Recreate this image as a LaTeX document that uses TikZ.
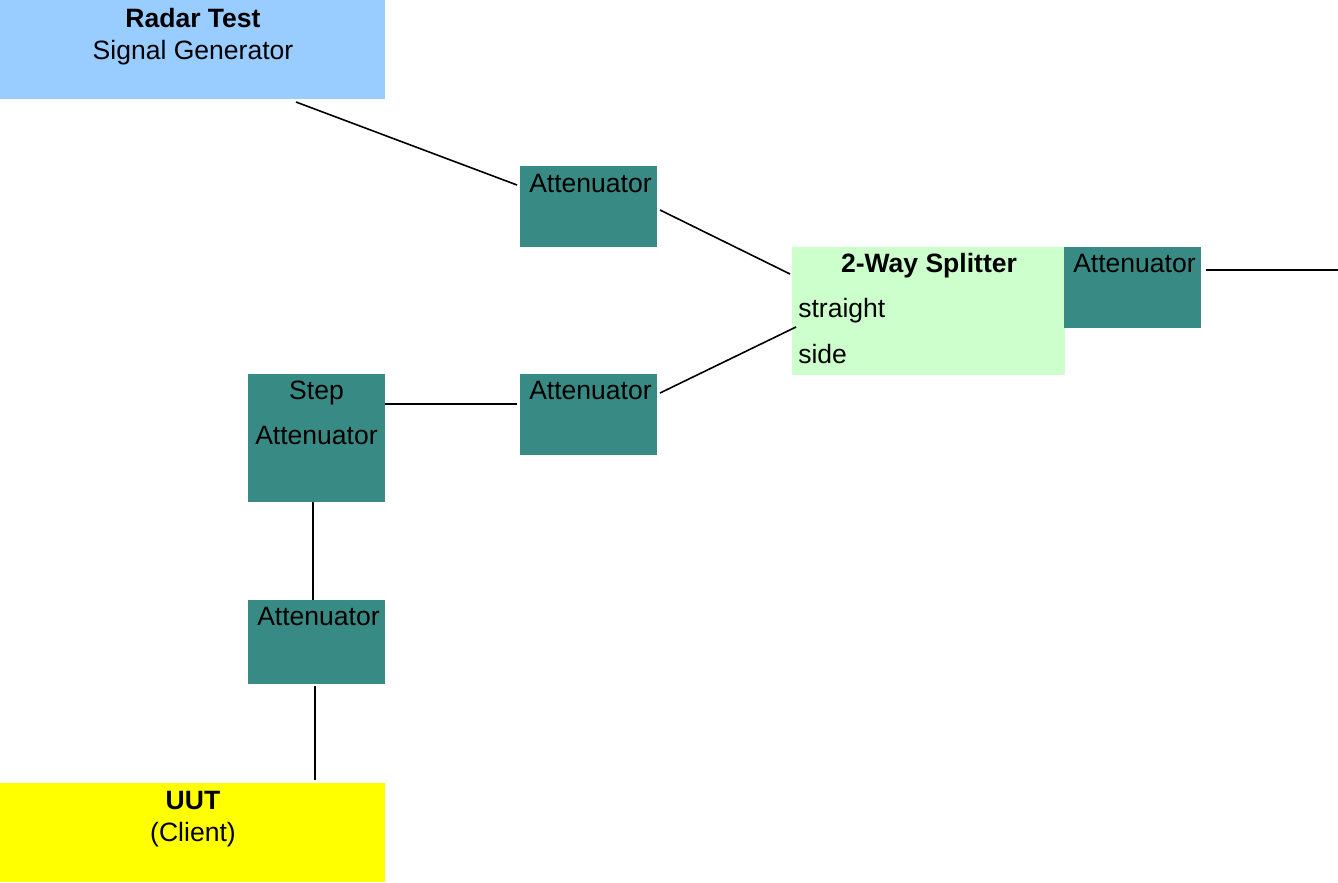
\documentclass[tikz,border=0pt]{standalone}
\usepackage{fontspec}
\setmainfont{Liberation Sans}
\usetikzlibrary{calc}
\definecolor{attcol}{HTML}{388A84}
\definecolor{radarblue}{HTML}{99CCFF}
\definecolor{splitgreen}{HTML}{CCFFCC}
\definecolor{uutyellow}{HTML}{FFFF00}
\begin{document}
\begin{tikzpicture}[x=0.75pt,y=-0.75pt,
  box/.style={draw=none, inner sep=0pt, outer sep=0pt, anchor=north west},
  attbox/.style={box, fill=attcol, minimum width=102.75pt, minimum height=60.75pt},
  lab/.style={inner sep=0pt, anchor=base, font=\fontsize{19.9}{24}\selectfont},
  labw/.style={lab, anchor=base west},
  wire/.style={draw=black, line width=1.2pt}]
\useasboundingbox (0,0) rectangle (1338,882);
% boxes
\node[box, fill=radarblue, minimum width=288.75pt, minimum height=74.25pt] (radar) at (0,0) {};
\node[attbox] (att1) at (520,166) {};
\node[box, fill=splitgreen, minimum width=204.75pt, minimum height=96pt] (split) at (792,247) {};
\node[attbox] (attr) at (1064,247) {};
\node[attbox] (att2) at (520,374) {};
\node[attbox, minimum height=96pt] (step) at (248,374) {};
\node[attbox, minimum height=63pt] (att3) at (248,600) {};
\node[box, fill=uutyellow, minimum width=288.75pt, minimum height=74.25pt] (uut) at (0,783) {};
% labels
\node[lab, font=\fontsize{19.9}{24}\selectfont\bfseries] (radarT) at (193,27) {Radar Test};
\node[lab] (radarS) at (193,59) {Signal Generator};
\node[labw] (att1T) at (529,192) {Attenuator};
\node[lab, font=\fontsize{19.9}{24}\selectfont\bfseries] (splitT) at (929,272) {2-Way Splitter};
\node[labw] (splitA) at (798,317) {straight};
\node[labw] (splitB) at (798,363) {side};
\node[labw] (attrT) at (1073,272) {Attenuator};
\node[labw] (att2T) at (529,399) {Attenuator};
\node[lab] (stepA) at (316.5,399) {Step};
\node[lab] (stepB) at (316.5,444) {Attenuator};
\node[labw] (att3T) at (257,625) {Attenuator};
\node[lab, font=\fontsize{19.9}{24}\selectfont\bfseries] (uutT) at (193,809) {UUT};
\node[lab] (uutC) at (193,841) {(Client)};
% connectors
\coordinate (outR) at (1338,270);
\draw[wire] ($(radar.south west)+(296,3)$) -- ($(att1.north west)+(-3,19)$);
\draw[wire] ($(att1.north east)+(3,44)$) -- ($(split.north west)+(-2,27)$);
\draw[wire] ($(att2.north east)+(3,19)$) -- ($(split.north west)+(4,80)$);
\draw[wire] ($(step.north east)+(0,30)$) -- ($(att2.north west)+(-3,30)$);
\draw[wire] ($(step.south west)+(65,0)$) -- ($(att3.north west)+(65,0)$);
\draw[wire] ($(att3.south west)+(67,2)$) -- ($(uut.north west)+(315,-3)$);
\draw[wire] ($(attr.north east)+(5,23)$) -- (outR);
\end{tikzpicture}
\end{document}
